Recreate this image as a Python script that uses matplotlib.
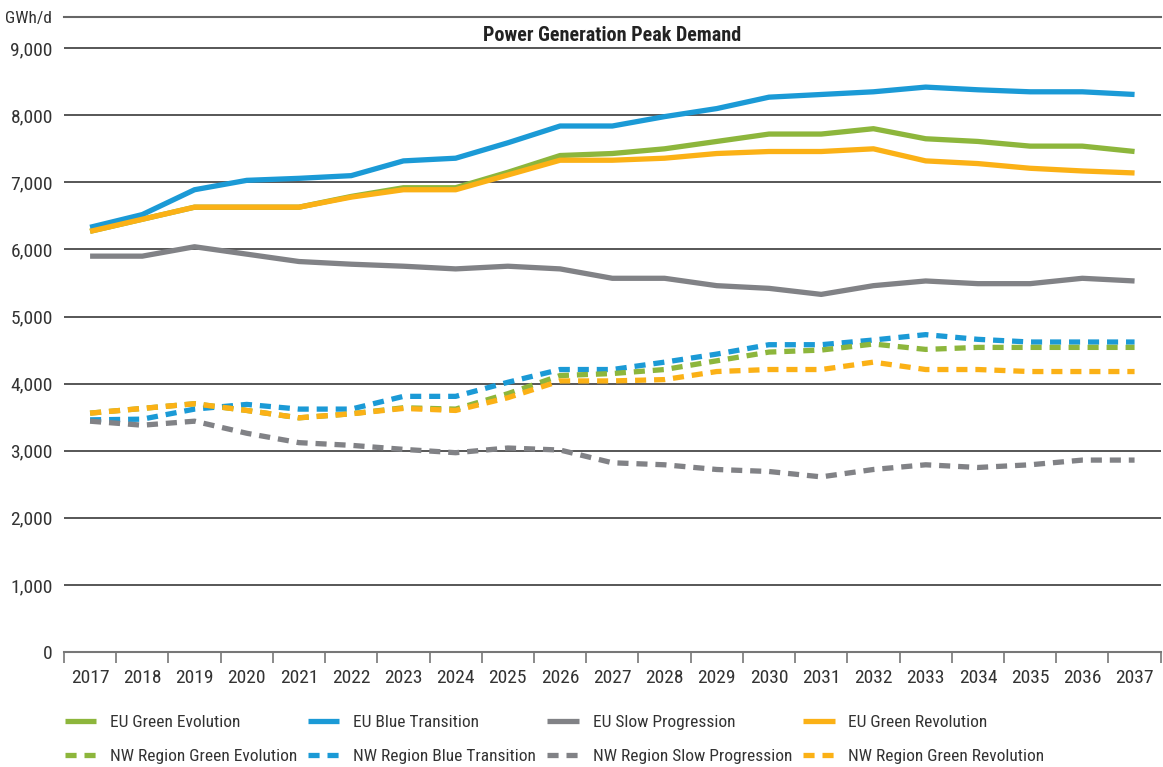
import numpy as np
import matplotlib.pyplot as plt
from matplotlib.ticker import FuncFormatter

plt.rcParams['font.family'] = ['Roboto Condensed', 'DejaVu Sans']
plt.rcParams['font.stretch'] = 'condensed'

years = [str(y) for y in range(2017, 2038)]

eu_green = [6270, 6450, 6630, 6630, 6630, 6790, 6920, 6920, 7150, 7400, 7430,
            7500, 7610, 7720, 7720, 7800, 7650, 7610, 7540, 7540, 7460]
eu_blue = [6330, 6520, 6890, 7030, 7060, 7100, 7320, 7360, 7590, 7840, 7840,
           7980, 8100, 8270, 8310, 8350, 8420, 8380, 8350, 8350, 8310]
eu_slow = [5900, 5900, 6040, 5930, 5820, 5780, 5750, 5710, 5750, 5710, 5570,
           5570, 5460, 5420, 5330, 5460, 5530, 5490, 5490, 5570, 5530]
eu_rev = [6270, 6450, 6630, 6630, 6630, 6780, 6890, 6890, 7110, 7330, 7330,
          7360, 7430, 7460, 7460, 7500, 7320, 7280, 7210, 7170, 7140]

nw_green = [3560, 3630, 3700, 3600, 3490, 3550, 3640, 3620, 3850, 4120, 4150,
            4210, 4340, 4470, 4500, 4590, 4510, 4540, 4540, 4540, 4540]
nw_blue = [3460, 3470, 3620, 3690, 3620, 3620, 3810, 3810, 4020, 4210, 4210,
           4320, 4440, 4580, 4580, 4650, 4730, 4660, 4620, 4620, 4620]
nw_slow = [3440, 3380, 3440, 3260, 3120, 3080, 3020, 2970, 3040, 3010, 2820,
           2790, 2720, 2690, 2610, 2720, 2790, 2750, 2790, 2860, 2860]
nw_rev = [3560, 3630, 3700, 3600, 3490, 3550, 3630, 3600, 3790, 4040, 4040,
          4060, 4180, 4210, 4210, 4320, 4210, 4210, 4180, 4180, 4180]

green = '#8db63c'
blue = '#1b9ad6'
grey = '#818286'
orange = '#fbb116'

fig = plt.figure(figsize=(11.63, 7.67), dpi=100)
ax = fig.add_axes([0.055, 0.15, 0.943, 0.8274])

x = np.arange(len(years))
lw = 3.8
dash = (2.1, 1.5)

# order so that a 4-column legend fills row 1 with EU and row 2 with NW
series = [
    (eu_green, green, '-', 'EU Green Evolution'),
    (nw_green, green, '--', 'NW Region Green Evolution'),
    (eu_blue, blue, '-', 'EU Blue Transition'),
    (nw_blue, blue, '--', 'NW Region Blue Transition'),
    (eu_slow, grey, '-', 'EU Slow Progression'),
    (nw_slow, grey, '--', 'NW Region Slow Progression'),
    (eu_rev, orange, '-', 'EU Green Revolution'),
    (nw_rev, orange, '--', 'NW Region Green Revolution'),
]
# stacking order as seen in the chart
zorder = {'EU Green Evolution': 3, 'EU Blue Transition': 4, 'EU Slow Progression': 3,
          'EU Green Revolution': 4, 'NW Region Green Evolution': 3,
          'NW Region Blue Transition': 2, 'NW Region Slow Progression': 3,
          'NW Region Green Revolution': 4}
for vals, c, ls, name in series:
    line, = ax.plot(x, vals, color=c, lw=lw, ls=ls, label=name,
                    solid_capstyle='butt', dash_capstyle='butt', zorder=zorder[name])
    if ls == '--':
        line.set_dashes(dash)

ax.set_xlim(-0.5, len(years) - 0.5)
ax.set_ylim(0, 9460)
ax.set_yticks(np.arange(0, 9001, 1000))
ax.yaxis.set_major_formatter(FuncFormatter(lambda v, p: f'{int(v):,}'))
ax.set_xticks(x)
ax.set_xticklabels(years)
ax.set_xticks(np.arange(-0.5, len(years), 1), minor=True)
ax.tick_params(axis='x', which='major', length=0, pad=12, labelsize=14, colors='#333333')
ax.tick_params(axis='x', which='minor', length=8, width=1.2, color='#777777')
ax.tick_params(axis='y', length=0, pad=8, labelsize=14, colors='#333333')

ax.grid(True, axis='y', color='#3a3a3a', lw=1.2)
ax.set_axisbelow(True)
for s in ['left', 'right']:
    ax.spines[s].set_visible(False)
ax.spines['top'].set_color('#666666')
ax.spines['top'].set_linewidth(1.5)
ax.spines['bottom'].set_color('#777777')
ax.spines['bottom'].set_linewidth(1.5)

ax.set_title('Power Generation Peak Demand', fontsize=14.5, fontweight='bold',
             color='#222222', y=0.963, pad=0)
fig.text(52 / 1163, 1 - 18 / 767, 'GWh/d', fontsize=12.5, color='#333333',
         va='center', ha='right')

leg = fig.legend(loc='upper left', bbox_to_anchor=(0.0495, 0.077), ncol=4,
                 frameon=False, fontsize=12.5, handlelength=1.8, handletextpad=0.8,
                 columnspacing=0.65, labelspacing=1.1, borderaxespad=0)
for t in leg.get_texts():
    t.set_color('#333333')

fig.savefig('out.png', dpi=100)
